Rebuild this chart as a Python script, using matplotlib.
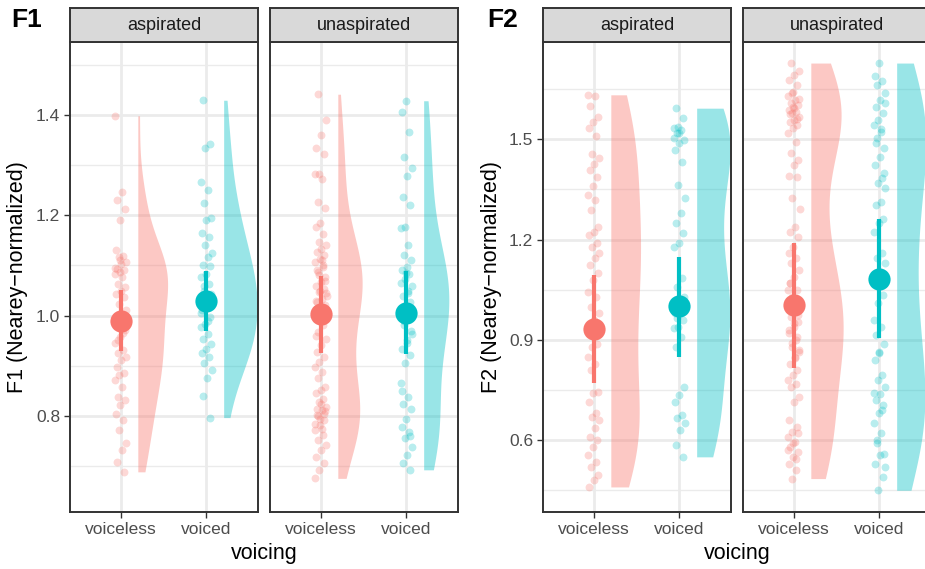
import numpy as np
import matplotlib.pyplot as plt

plt.rcParams['font.family'] = ['Liberation Sans', 'DejaVu Sans']

voicing = ['voiceless', 'voiced']
aspiration = ['aspirated', 'unaspirated']
colors = ['#F8766D', '#00BFC4']

# F1 token values
f1_asp_voiceless = [1.398, 1.246, 1.231, 1.213, 1.191, 1.131, 1.119, 1.117, 1.107, 1.103,
                    1.093, 1.090, 1.087, 1.083, 1.077, 1.064, 1.057, 1.050, 1.044, 1.037,
                    1.024, 1.011, 0.998, 0.984, 0.971, 0.958, 0.945, 0.931, 0.925, 0.918,
                    0.911, 0.898, 0.885, 0.881, 0.872, 0.858, 0.838, 0.832, 0.822, 0.805,
                    0.792, 0.772, 0.746, 0.732, 0.709, 0.689, 1.110, 1.095, 0.965, 0.952]
f1_asp_voiced = [1.429, 1.342, 1.334, 1.267, 1.251, 1.225, 1.194, 1.191, 1.164, 1.156,
                 1.141, 1.125, 1.117, 1.100, 1.098, 1.083, 1.077, 1.064, 1.050, 1.044,
                 1.024, 1.011, 0.998, 0.984, 0.977, 0.964, 0.954, 0.944, 0.934, 0.925,
                 0.918, 0.905, 0.891, 0.875, 0.840, 0.797, 1.035, 1.005, 0.990, 1.060]
f1_unasp_voiceless = [1.441, 1.390, 1.360, 1.334, 1.322, 1.283, 1.282, 1.272, 1.226, 1.214,
                      1.184, 1.176, 1.163, 1.146, 1.140, 1.133, 1.126, 1.120, 1.113, 1.107,
                      1.097, 1.087, 1.077, 1.067, 1.060, 1.054, 1.047, 1.040, 1.034, 1.027,
                      1.021, 1.007, 0.994, 0.981, 0.968, 0.954, 0.941, 0.928, 0.918, 0.908,
                      0.898, 0.888, 0.875, 0.858, 0.852, 0.845, 0.835, 0.828, 0.819, 0.812,
                      0.802, 0.792, 0.782, 0.772, 0.762, 0.752, 0.742, 0.732, 0.719, 0.706,
                      0.693, 0.676, 1.110, 1.090, 1.070, 1.050, 1.030, 1.100, 1.080, 1.045,
                      0.825, 0.815, 0.805, 0.795, 0.785, 0.775, 0.800, 0.810, 1.000, 0.960]
f1_unasp_voiced = [1.428, 1.405, 1.366, 1.315, 1.295, 1.279, 1.236, 1.221, 1.176, 1.174,
                   1.140, 1.120, 1.110, 1.097, 1.090, 1.083, 1.074, 1.060, 1.050, 1.040,
                   1.027, 1.014, 1.001, 0.994, 0.981, 0.964, 0.951, 0.934, 0.921, 0.905,
                   0.865, 0.838, 0.825, 0.815, 0.795, 0.779, 0.769, 0.756, 0.739, 0.723,
                   0.706, 0.693, 1.085, 1.065, 1.045, 0.990, 0.970, 0.945, 0.850, 0.760]

# F2 token values
f2_asp_voiceless = [1.633, 1.630, 1.600, 1.566, 1.551, 1.535, 1.510, 1.456, 1.443, 1.425,
                    1.408, 1.388, 1.360, 1.333, 1.318, 1.288, 1.239, 1.224, 1.214, 1.189,
                    1.179, 1.159, 1.144, 1.124, 1.099, 1.079, 1.044, 1.029, 0.999, 0.979,
                    0.959, 0.919, 0.889, 0.879, 0.849, 0.829, 0.809, 0.745, 0.740, 0.715,
                    0.680, 0.670, 0.660, 0.635, 0.610, 0.600, 0.580, 0.555, 0.535, 0.520,
                    0.495, 0.480, 0.460]
f2_asp_voiced = [1.593, 1.563, 1.538, 1.533, 1.528, 1.518, 1.498, 1.488, 1.468, 1.433,
                 1.363, 1.323, 1.278, 1.249, 1.219, 1.189, 1.179, 1.084, 1.059, 1.029,
                 0.999, 0.979, 0.959, 0.939, 0.934, 0.909, 0.879, 0.759, 0.735, 0.715,
                 0.675, 0.665, 0.650, 0.630, 0.585, 0.550, 1.520, 1.505, 0.990, 0.965]
f2_unasp_voiceless = [1.728, 1.703, 1.693, 1.678, 1.663, 1.638, 1.628, 1.618, 1.608, 1.603,
                      1.598, 1.588, 1.583, 1.578, 1.568, 1.558, 1.553, 1.543, 1.533, 1.518,
                      1.493, 1.458, 1.438, 1.423, 1.390, 1.388, 1.323, 1.290, 1.239, 1.224,
                      1.209, 1.179, 1.159, 1.144, 1.129, 1.109, 1.089, 1.069, 1.049, 1.029,
                      1.009, 0.989, 0.969, 0.954, 0.939, 0.919, 0.899, 0.879, 0.864, 0.849,
                      0.829, 0.809, 0.794, 0.779, 0.769, 0.759, 0.730, 0.715, 0.660, 0.640,
                      0.625, 0.610, 0.595, 0.580, 0.565, 0.550, 0.530, 0.510, 0.485,
                      1.620, 1.595, 1.575, 1.560, 1.640, 1.050, 1.020, 0.995, 0.975, 0.950,
                      0.930, 0.910, 0.890, 0.870, 0.845, 1.070, 0.620, 0.590, 0.570, 0.545]
f2_unasp_voiced = [1.728, 1.688, 1.673, 1.663, 1.638, 1.618, 1.598, 1.578, 1.558, 1.543,
                   1.523, 1.503, 1.473, 1.448, 1.423, 1.383, 1.368, 1.353, 1.313, 1.303,
                   1.263, 1.249, 1.224, 1.159, 1.144, 1.129, 1.104, 1.069, 1.034, 1.009,
                   0.959, 0.939, 0.914, 0.889, 0.864, 0.839, 0.794, 0.779, 0.759, 0.739,
                   0.720, 0.705, 0.680, 0.650, 0.620, 0.590, 0.560, 0.555, 0.530, 0.490,
                   0.450, 1.610, 1.530, 1.490, 1.400, 0.860, 0.740, 0.690, 0.600, 0.520]

# summary: mean and interval [aspiration][voicing]
f1_mean = [[0.990, 1.029], [1.003, 1.006]]
f1_low = [[0.930, 0.970], [0.925, 0.924]]
f1_high = [[1.051, 1.088], [1.079, 1.089]]
f2_mean = [[0.933, 1.000], [1.005, 1.083]]
f2_low = [[0.772, 0.848], [0.817, 0.905]]
f2_high = [[1.094, 1.148], [1.190, 1.263]]

f1_data = [[f1_asp_voiceless, f1_asp_voiced], [f1_unasp_voiceless, f1_unasp_voiced]]
f2_data = [[f2_asp_voiceless, f2_asp_voiced], [f2_unasp_voiceless, f2_unasp_voiced]]

W, H = 925., 569.
fig = plt.figure(figsize=(9.25, 5.69), dpi=100)


def kde(vals, grid):
    v = np.asarray(vals)
    q75, q25 = np.percentile(v, [75, 25])
    bw = 0.9 * min(v.std(ddof=1), (q75 - q25) / 1.34) * len(v) ** -0.2
    d = np.exp(-0.5 * ((grid[:, None] - v[None, :]) / bw) ** 2).sum(axis=1)
    return d / (len(v) * bw * np.sqrt(2 * np.pi))


def draw_panel(data, means, lows, highs, lefts, ylim, yticks, minor, ylabel, tag, tag_x, ylab_x):
    # violin densities, scaled across the whole panel
    dens = []
    for a in range(2):
        row = []
        for v in range(2):
            g = np.linspace(min(data[a][v]), max(data[a][v]), 300)
            row.append((g, kde(data[a][v], g)))
        dens.append(row)
    dmax = max(d.max() for row in dens for g, d in row)
    for a in range(2):
        x0 = lefts[a]
        ax = fig.add_axes([x0 / W, 1 - 512 / H, 188 / W, 470 / H])
        ax.set_xlim(0.41, 2.6)
        ax.set_ylim(*ylim)
        ax.set_facecolor('white')
        for y in minor:
            ax.axhline(y, color='#EBEBEB', lw=1.0, zorder=0)
        for y in yticks:
            ax.axhline(y, color='#EBEBEB', lw=2.0, zorder=0)
        for x in [1, 2]:
            ax.axvline(x, color='#EBEBEB', lw=2.0, zorder=0)
        for v in range(2):
            pos = v + 1
            g, d = dens[a][v]
            ax.fill_betweenx(g, pos + 0.2, pos + 0.2 + d / dmax * 0.39,
                             color=colors[v], alpha=0.4, lw=0, zorder=1)
            vals = np.asarray(data[a][v])
            n = len(vals)
            jit = ((np.arange(n) * 0.618034 + 0.3 * a + 0.17 * v) % 1 - 0.5) * 0.14
            ax.scatter(pos + jit, vals, s=32, color=colors[v], alpha=0.28, lw=0, zorder=2)
            ax.plot([pos, pos], [lows[a][v], highs[a][v]], color=colors[v], lw=3.0,
                    solid_capstyle='butt', zorder=3)
            ax.plot(pos, means[a][v], 'o', color=colors[v], ms=16, mew=0, zorder=4)
        ax.set_xticks([1, 2])
        ax.set_xticklabels(voicing, fontsize=12.5, color='#4D4D4D')
        ax.set_yticks(yticks)
        if a == 0:
            ax.set_yticklabels(['%.1f' % t for t in yticks], fontsize=12.5, color='#4D4D4D')
            ax.tick_params(axis='y', length=4.5, width=1.0, color='#333333', pad=2.5)
        else:
            ax.tick_params(axis='y', length=0, labelleft=False)
        ax.tick_params(axis='x', length=4.5, width=1.0, color='#333333', pad=2.5)
        for s in ax.spines.values():
            s.set_color('#333333')
            s.set_linewidth(1.4)
        # facet strip
        st = fig.add_axes([x0 / W, 1 - 42 / H, 188 / W, 34 / H])
        st.set_facecolor('#D9D9D9')
        st.set_xticks([])
        st.set_yticks([])
        for s in st.spines.values():
            s.set_color('#333333')
            s.set_linewidth(1.4)
        st.text(0.5, 0.5, aspiration[a], ha='center', va='center', fontsize=13,
                color='#1A1A1A', transform=st.transAxes)
    mid = (lefts[0] + lefts[1] + 188) / 2
    fig.text(mid / W, 1 - 553 / H, 'voicing', ha='center', va='center', fontsize=15.5)
    fig.text(ylab_x / W, 1 - 277 / H, ylabel, ha='center', va='center', rotation=90, fontsize=15.5)
    fig.text(tag_x / W, 1 - 20 / H, tag, ha='left', va='center', fontsize=19, fontweight='bold')


draw_panel(f1_data, f1_mean, f1_low, f1_high, [70, 270], (0.609, 1.545),
           [0.8, 1.0, 1.2, 1.4], [0.7, 0.9, 1.1, 1.3, 1.5],
           'F1 (Nearey\u2212normalized)', 'F1', 11, 18)
draw_panel(f2_data, f2_mean, f2_low, f2_high, [543, 743], (0.385, 1.791),
           [0.6, 0.9, 1.2, 1.5], [0.45, 0.75, 1.05, 1.35, 1.65],
           'F2 (Nearey\u2212normalized)', 'F2', 487, 491)

plt.savefig('out.png', dpi=100)
